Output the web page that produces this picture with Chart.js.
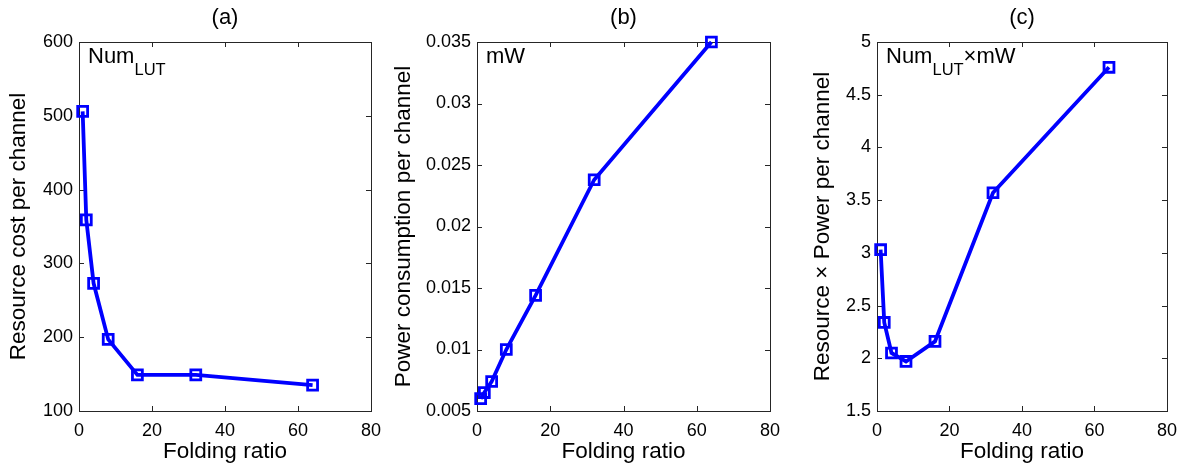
<!DOCTYPE html>
<html lang="en">
<head>
<meta charset="UTF-8">
<title>folding ratio</title>
<script src="https://cdn.jsdelivr.net/npm/chart.js"></script>
<style>
  body { margin: 0; background: #fff; }
  #wrap { position: relative; width: 1186px; height: 470px; }
  canvas { position: absolute; top: 0; }
</style>
</head>
<body>
<div id="wrap">
  <canvas id="chartA" width="390" height="470" style="left:0px"></canvas>
  <canvas id="chartB" width="400" height="470" style="left:390px"></canvas>
  <canvas id="chartC" width="396" height="470" style="left:790px"></canvas>
</div>
<script>
// data
const foldingRatio = [1, 2, 4, 8, 16, 32, 64]
const resourceCost = [506, 359, 273, 197, 149, 149, 135]
const powerMw = [0.0060, 0.0065, 0.0074, 0.0100, 0.0144, 0.0238, 0.0350]
const resourcePower = [3.03, 2.34, 2.05, 1.97, 2.16, 3.57, 4.76]

const xTicks = [0, 20, 40, 60, 80]
const yTicksA = [100, 200, 300, 400, 500, 600]
const yTicksB = [0.005, 0.01, 0.015, 0.02, 0.025, 0.03, 0.035]
const yTicksC = [1.5, 2, 2.5, 3, 3.5, 4, 4.5, 5]

const FONT = '"Liberation Sans", Arial, sans-serif'
const BLUE = '#0000ff'
const AXIS = '#262626'

// box + inward ticks on all four sides, like matlab
const boxPlugin = {
  id: 'box',
  beforeDatasetsDraw(chart) {
    const ctx = chart.ctx
    const a = chart.chartArea
    const xs = chart.scales.x, ys = chart.scales.y
    ctx.save()
    ctx.strokeStyle = AXIS
    ctx.lineWidth = 1
    ctx.strokeRect(Math.round(a.left) + 0.5, Math.round(a.top) + 0.5,
      Math.round(a.right - a.left), Math.round(a.bottom - a.top))
    ctx.beginPath()
    xs.ticks.forEach(t => {
      const px = Math.round(xs.getPixelForValue(t.value)) + 0.5
      ctx.moveTo(px, a.bottom); ctx.lineTo(px, a.bottom - 5)
      ctx.moveTo(px, a.top); ctx.lineTo(px, a.top + 5)
    })
    ys.ticks.forEach(t => {
      const py = Math.round(ys.getPixelForValue(t.value)) + 0.5
      ctx.moveTo(a.left, py); ctx.lineTo(a.left + 5, py)
      ctx.moveTo(a.right, py); ctx.lineTo(a.right - 5, py)
    })
    ctx.stroke()
    ctx.restore()
  },
  afterDatasetsDraw(chart) {
    const ctx = chart.ctx
    const a = chart.chartArea
    // panel title and unit label
    const o = chart.options.plugins.box
    ctx.save()
    ctx.fillStyle = '#000'
    ctx.textAlign = 'center'
    ctx.textBaseline = 'middle'
    ctx.font = '22px ' + FONT
    ctx.fillText(o.title, (a.left + a.right) / 2, 18)

    ctx.textAlign = 'left'
    ctx.textBaseline = 'alphabetic'
    let x = a.left + 9
    o.label.forEach(part => {
      ctx.font = (part.sub ? '16.5px ' : '22px ') + FONT
      ctx.fillText(part.text, x, part.sub ? 75 : 63)
      x += ctx.measureText(part.text).width
    })
    ctx.restore()
  }
}

function makeChart(id, values, yTicks, yTitle, title, label, yWidth, padRight, titlePad, fmt) {
  return new Chart(document.getElementById(id), {
    type: 'line',
    data: {
      datasets: [{
        data: foldingRatio.map((f, i) => ({ x: f, y: values[i] })),
        borderColor: BLUE,
        borderWidth: 3.8,
        pointStyle: 'rect',
        pointRadius: 7,
        pointBorderWidth: 2.8,
        pointBorderColor: BLUE,
        pointBackgroundColor: 'rgba(255,255,255,0)',
        tension: 0,
        clip: false
      }]
    },
    options: {
      responsive: false,
      animation: false,
      layout: { padding: { top: 42, right: padRight, bottom: 0, left: 0 } },
      plugins: {
        legend: { display: false },
        tooltip: { enabled: false },
        box: { title: title, label: label }
      },
      scales: {
        x: {
          type: 'linear',
          min: 0, max: 80,
          afterBuildTicks: s => { s.ticks = xTicks.map(v => ({ value: v })) },
          afterFit: s => { s.height = 59 },
          grid: { display: false, drawTicks: false },
          border: { display: false },
          ticks: { color: '#000', font: { family: FONT, size: 18 }, padding: 9 },
          title: { display: true, text: 'Folding ratio', color: '#000',
                   font: { family: FONT, size: 22.5 }, padding: { top: 0, bottom: 5 } }
        },
        y: {
          type: 'linear',
          min: yTicks[0], max: yTicks[yTicks.length - 1],
          afterBuildTicks: s => { s.ticks = yTicks.map(v => ({ value: v })) },
          afterFit: s => { s.width = yWidth },
          grid: { display: false, drawTicks: false },
          border: { display: false },
          ticks: { color: '#000', font: { family: FONT, size: 18 }, padding: 6, callback: fmt },
          title: { display: true, text: yTitle, color: '#000',
                   font: { family: FONT, size: 22.5 }, padding: { top: titlePad, bottom: 0 } }
        }
      }
    },
    plugins: [boxPlugin]
  })
}

const plain = v => String(parseFloat(v.toFixed(4)))

makeChart('chartA', resourceCost, yTicksA, 'Resource cost per channel', '(a)',
  [{ text: 'Num' }, { text: 'LUT', sub: true }], 79, 18, 5, plain)
makeChart('chartB', powerMw, yTicksB, 'Power consumption per channel', '(b)',
  [{ text: 'mW' }], 87, 20, 0, plain)
makeChart('chartC', resourcePower, yTicksC, 'Resource \u00d7 Power per channel', '(c)',
  [{ text: 'Num' }, { text: 'LUT', sub: true }, { text: '\u00d7mW' }], 87, 17, 19, plain)
</script>
</body>
</html>
